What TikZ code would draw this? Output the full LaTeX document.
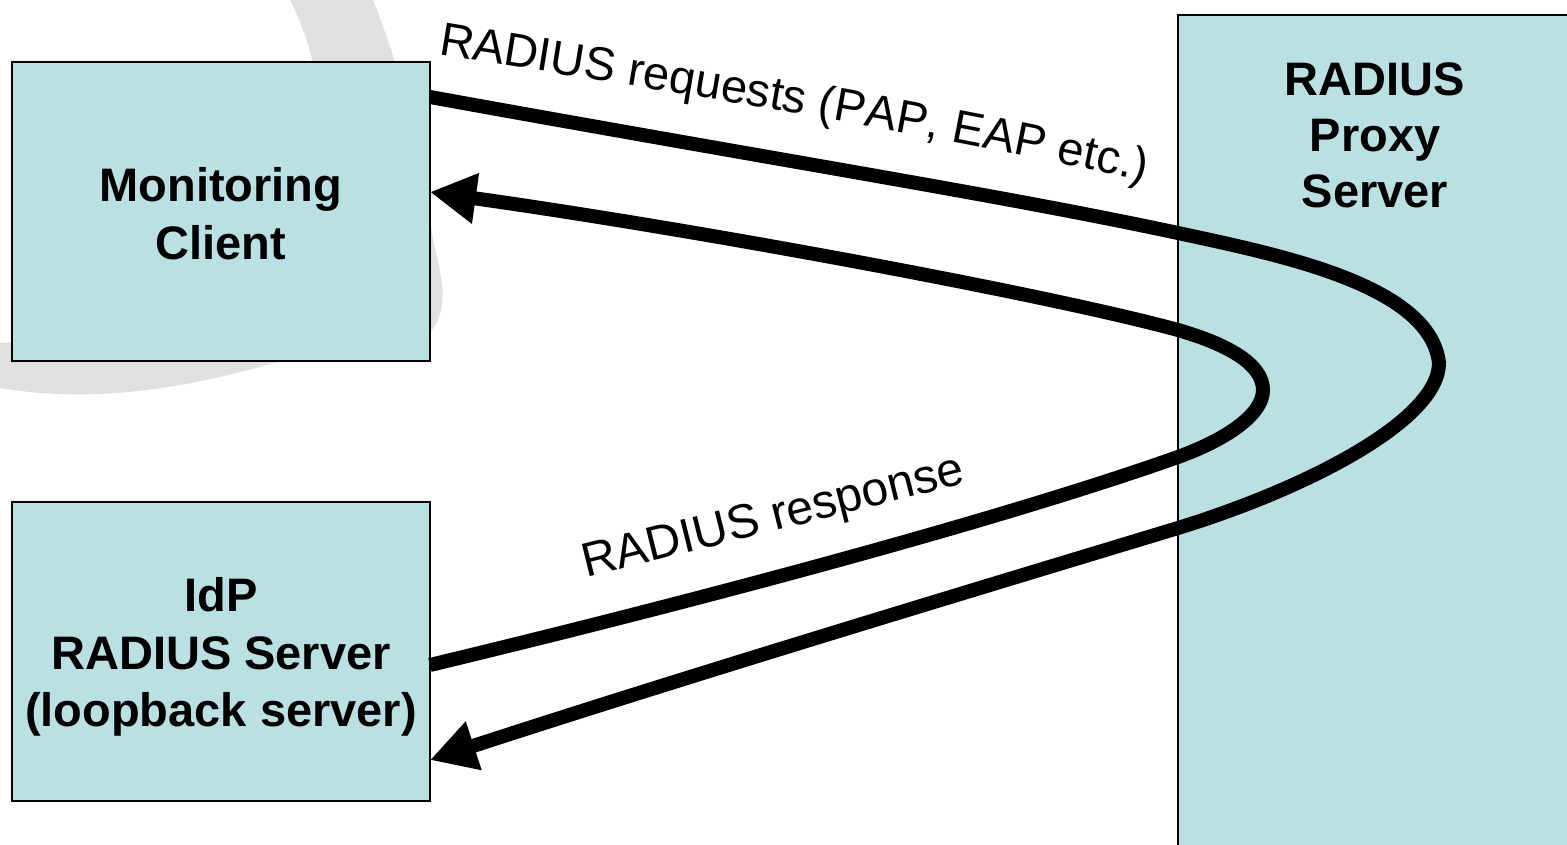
\documentclass[tikz,border=0pt]{standalone}
\usepackage{fontspec}
\setmainfont{Liberation Sans}
\usetikzlibrary{arrows.meta,calc,decorations.text}
\definecolor{boxfill}{HTML}{BBE0E3}
\definecolor{swoosh}{RGB}{224,224,224}
\begin{document}
\begin{tikzpicture}[x=1pt,y=-1pt,
  box/.style={draw=black,line width=2.5pt,fill=boxfill,inner sep=0pt,outer sep=0pt},
  boxtext/.style={align=center,inner sep=0pt,font=\fontsize{47}{57.5}\selectfont\bfseries},
  conn/.style={line width=14pt,-{Triangle[length=46pt,width=48pt]}},
  lbl/.style={font=\fontsize{48}{56}\selectfont,inner sep=0pt}]
\useasboundingbox (0,0) rectangle (1567,845);
\clip (0,0) rectangle (1567,845);
% faint background swoosh
\fill[swoosh] (373,0) .. controls (405,80) and (425,170) .. (432,233)
  .. controls (440,275) and (452,305) .. (430,333)
  .. controls (400,355) and (330,352) .. (280,361)
  .. controls (200,385) and (100,405) .. (0,388) -- (0,343)
  .. controls (250,330) and (380,180) .. (290,0) -- cycle;
% boxes
\node[box,minimum width=418pt,minimum height=299pt] (mon) at (221,211.5) {};
\node[box,minimum width=418pt,minimum height=299pt] (idp) at (221,651.5) {};
\node[box,minimum width=430pt,minimum height=900pt,anchor=north west] (proxy) at (1178,15) {};
\node[boxtext] (montext) at (221,213.5) {Monitoring\\Client};
\node[boxtext] (idptext) at (221,657) {IdP\\RADIUS Server\\(loopback server)};
\node[boxtext,font=\fontsize{47}{56}\selectfont\bfseries] (proxytext) at (1375,135) {RADIUS\\Proxy\\Server};
% requests: monitoring client -> proxy -> IdP
\draw[conn] ($(mon.north east)+(0,35)$) .. controls (800,164) and (1000,195) .. (1178,233)
  .. controls (1280,255) and (1430,285) .. (1439,363)
  .. controls (1439,420) and (1308,488) .. (1178,528)
  .. controls (1000,582) and (700,672) .. ($(idp.north east)+(0,258)$);
% response: IdP -> proxy -> monitoring client
\draw[conn] ($(idp.north east)+(0,163)$) .. controls (700,600) and (1000,520) .. (1178,457)
  .. controls (1225,440) and (1263,415) .. (1263,390)
  .. controls (1263,365) and (1230,345) .. (1178,330)
  .. controls (1050,295) and (700,230) .. ($(mon.north east)+(0,130)$);
% labels
\path[decorate,decoration={text along path,text align=left,
  text={|\fontsize{47}{56}\selectfont|RADIUS requests (PAP, EAP etc.)}}]
  (438,54) .. controls (670,92) and (900,127) .. (1175,188);
\node[lbl,anchor=base west,rotate=14] (resplbl) at (586,578) {RADIUS response};
\end{tikzpicture}
\end{document}
